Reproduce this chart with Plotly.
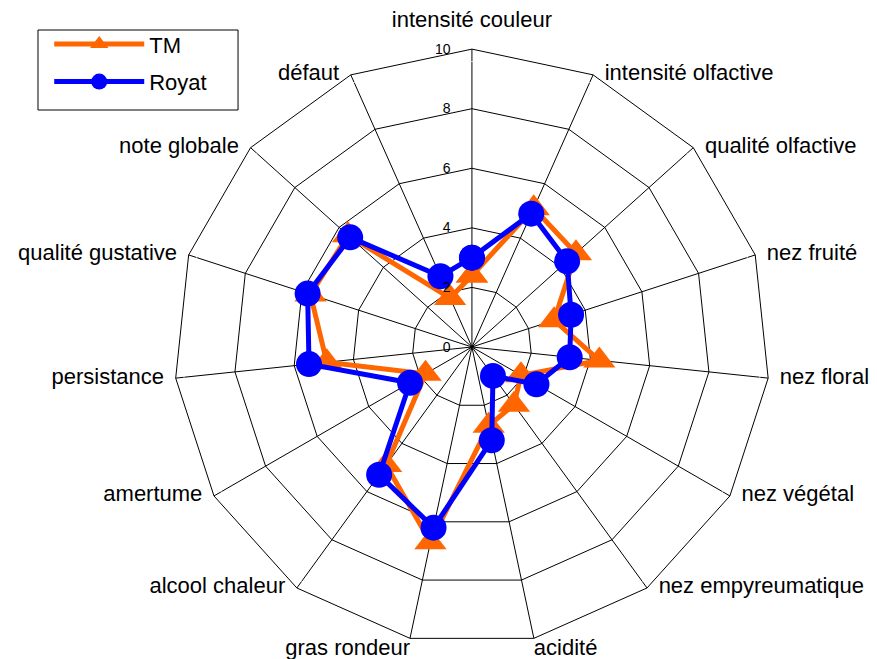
import plotly.graph_objects as go

# Sensory profile categories (clockwise from top)
categories = ['intensité couleur', 'intensité olfactive', 'qualité olfactive', 'nez fruité',
              'nez floral', 'nez végétal', 'nez empyreumatique', 'acidité', 'gras rondeur',
              'alcool chaleur', 'amertume', 'persistance', 'qualité gustative', 'note globale',
              'défaut']
tm_values = [2.4, 5.1, 4.7, 2.9, 4.3, 1.9, 2.4, 2.7, 6.7, 4.9, 1.8, 4.9, 5.7, 5.6, 1.8]
royat_values = [3.0, 4.9, 4.3, 3.5, 3.3, 2.5, 1.2, 3.2, 6.2, 5.3, 2.4, 5.5, 5.8, 5.5, 2.6]
radial_ticks = [0, 2, 4, 6, 8, 10]
r_max = 10


def closed(vals):
    return list(vals) + [vals[0]]


def label_style(i, n):
    # text anchor and spacing picked from the spoke angle (clockwise from top)
    a = 360.0 * i / n
    if a == 0:
        return 'top center', 25
    if a < 150:
        return 'middle right', 17
    if a < 180:
        return 'bottom right', 0
    if a < 210:
        return 'bottom left', 0
    return 'middle left', 17


n = len(categories)
styles = [label_style(i, n) for i in range(n)]

fig = go.Figure()

fig.add_trace(go.Scatterpolar(
    r=closed(tm_values), theta=closed(categories), name='TM', legendgroup='tm',
    mode='lines+markers',
    line=dict(color='#FF6600', width=5),
    marker=dict(symbol='triangle-up', size=28, color='#FF6600')
))
fig.add_trace(go.Scatterpolar(
    r=closed(royat_values), theta=closed(categories), name='Royat', legendgroup='royat',
    mode='lines+markers',
    line=dict(color='#0000FF', width=5),
    marker=dict(symbol='circle', size=26, color='#0000FF')
))

# Category labels at the outer ring (invisible markers set the text spacing)
fig.add_trace(go.Scatterpolar(
    r=[r_max] * n, theta=categories, mode='markers+text',
    text=categories,
    textposition=[s[0] for s in styles],
    textfont=dict(size=22, color='black'),
    marker=dict(size=[s[1] for s in styles], color='rgba(0,0,0,0)'),
    cliponaxis=False, showlegend=False, hoverinfo='skip'
))

fig.update_layout(
    width=877, height=659,
    paper_bgcolor='white',
    font=dict(family='Liberation Sans, Arial, sans-serif', color='black'),
    margin=dict(l=0, r=0, t=0, b=0),
    polar=dict(
        domain=dict(x=[0.189, 0.869], y=[0.0336, 0.9376]),
        bgcolor='white',
        gridshape='linear',
        angularaxis=dict(
            direction='clockwise', rotation=90,
            categoryorder='array', categoryarray=categories,
            showline=True, linecolor='black', linewidth=1,
            gridcolor='black', gridwidth=1,
            ticks='', showticklabels=False
        ),
        radialaxis=dict(
            range=[0, r_max], tickvals=radial_ticks, angle=90, tickangle=90,
            side='counterclockwise',
            showline=False, gridcolor='black', gridwidth=1,
            ticks='outside', ticklen=16, tickcolor='rgba(0,0,0,0)',
            tickfont=dict(size=14, color='black')
        )
    ),
    showlegend=True,
    legend=dict(
        x=0.047, y=0.977, xanchor='left', yanchor='top',
        borderwidth=0, bgcolor='rgba(0,0,0,0)',
        font=dict(size=22), itemwidth=90, tracegroupgap=6
    ),
    shapes=[dict(type='rect', xref='paper', yref='paper',
                 x0=0.0342, x1=0.2623, y0=0.8452, y1=0.9666,
                 line=dict(color='black', width=1), fillcolor='rgba(0,0,0,0)')]
)

fig.write_html("out.html")
